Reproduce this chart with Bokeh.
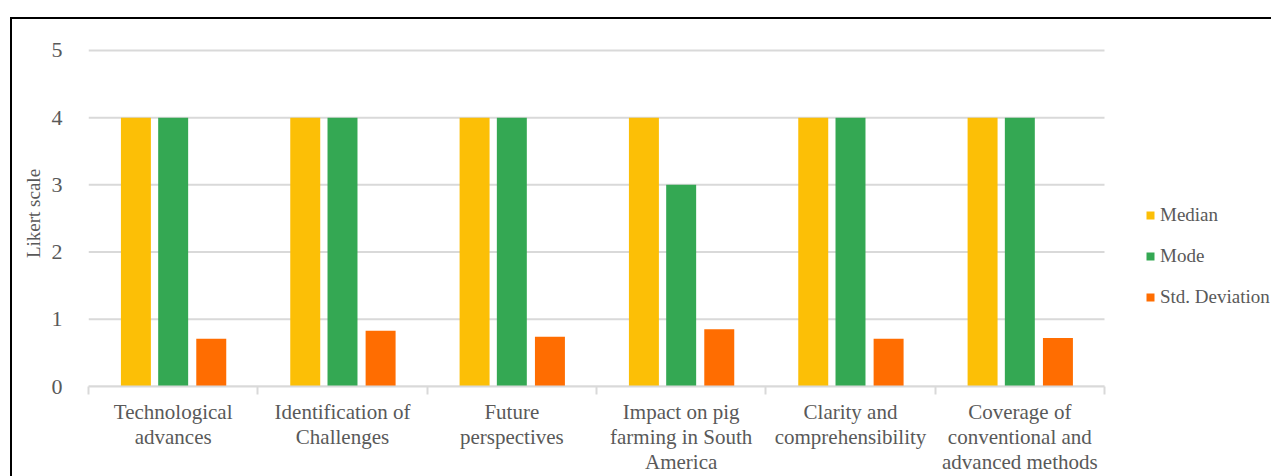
from bokeh.plotting import figure
from bokeh.models import (FixedTicker, Range1d, LinearAxis, Legend, LegendItem,
                          InlineStyleSheet)
from bokeh.embed import file_html
from bokeh.resources import INLINE
import numpy as np

categories = [
    "Technological\nadvances",
    "Identification of\nChallenges",
    "Future\nperspectives",
    "Impact on pig\nfarming in South\nAmerica",
    "Clarity and\ncomprehensibility",
    "Coverage of\nconventional and\nadvanced methods",
]
median = [4, 4, 4, 4, 4, 4]
mode = [4, 4, 4, 3, 4, 4]
std_dev = [0.71, 0.83, 0.74, 0.85, 0.71, 0.72]
series_names = ["Median", "Mode", "Std. Deviation"]
colors = ["#FCBF06", "#34A853", "#FF6D01"]
y_ticks = [0, 1, 2, 3, 4, 5]

FONT = "Liberation Serif"
TXT = "#595959"
GRID = "#D9D9D9"

n = len(categories)
centers = np.arange(n) + 0.5

W, H = 1271, 476
LEFT, BOTTOM, TOP = 88, 89, 40
plot_px = 1016.0  # width of the category area
x_end = n * (W - LEFT) / plot_px

p = figure(width=W, height=H, output_backend="svg", toolbar_location=None,
           x_range=Range1d(0, x_end), y_range=Range1d(0, 5.148),
           min_border_left=LEFT, min_border_right=0, min_border_top=TOP,
           min_border_bottom=BOTTOM, x_axis_type=None)
p.outline_line_color = None
p.background_fill_color = "white"
p.border_fill_color = "white"

# horizontal gridlines limited to the category area
p.segment(x0=[0] * len(y_ticks), x1=[n] * len(y_ticks), y0=y_ticks, y1=y_ticks,
          line_color=GRID, line_width=2)

offsets = [-0.22, 0.0, 0.225]
renderers = []
for vals, name, col, off in zip([median, mode, std_dev], series_names, colors, offsets):
    r = p.vbar(x=centers + off, top=vals, bottom=0, width=0.177, fill_color=col,
               line_color=None)
    renderers.append(r)

# x axis
xaxis = LinearAxis(ticker=FixedTicker(ticks=list(centers), minor_ticks=list(range(n + 1))))
xaxis.bounds = (0, n)
xaxis.major_label_overrides = {float(c): lab for c, lab in zip(centers, categories)}
xaxis.major_tick_out = 0
xaxis.major_tick_in = 0
xaxis.minor_tick_out = 8
xaxis.minor_tick_in = 0
xaxis.minor_tick_line_color = GRID
xaxis.minor_tick_line_width = 2
xaxis.axis_line_color = GRID
xaxis.axis_line_width = 2
xaxis.major_label_text_font = FONT
xaxis.major_label_text_font_size = "21px"
xaxis.major_label_text_color = TXT
xaxis.major_label_text_line_height = 1.05
xaxis.major_label_standoff = 5
p.add_layout(xaxis, "below")

# y axis
ya = p.yaxis[0]
ya.ticker = FixedTicker(ticks=y_ticks)
ya.axis_line_color = None
ya.major_tick_line_color = None
ya.minor_tick_line_color = None
ya.major_label_text_font = FONT
ya.major_label_text_font_size = "22px"
ya.major_label_text_color = TXT
ya.major_label_standoff = 20
ya.axis_label = "Likert scale"
ya.axis_label_text_font = FONT
ya.axis_label_text_font_size = "19px"
ya.axis_label_text_font_style = "normal"
ya.axis_label_text_color = TXT
ya.axis_label_standoff = 5

p.xgrid.visible = False
p.ygrid.visible = False

lg = Legend(items=[LegendItem(label=nm, renderers=[r]) for nm, r in zip(series_names, renderers)])
lg.location = (1057, 78)
lg.border_line_color = None
lg.background_fill_alpha = 0
lg.padding = 0
lg.margin = 0
lg.glyph_width = 10
lg.glyph_height = 10
lg.label_height = 20
lg.spacing = 19
lg.label_standoff = 5
lg.label_text_font = FONT
lg.label_text_font_size = "19px"
lg.label_text_color = TXT
p.add_layout(lg, "center")

p.stylesheets = [InlineStyleSheet(css=""":host::after {
  content: ''; position: absolute; left: 10px; top: 17px;
  width: 1261px; height: 459px; box-sizing: border-box;
  border-left: 2px solid black; border-top: 2px solid black;
  pointer-events: none;
}""")]

open("out.html", "w").write(file_html(p, INLINE))
